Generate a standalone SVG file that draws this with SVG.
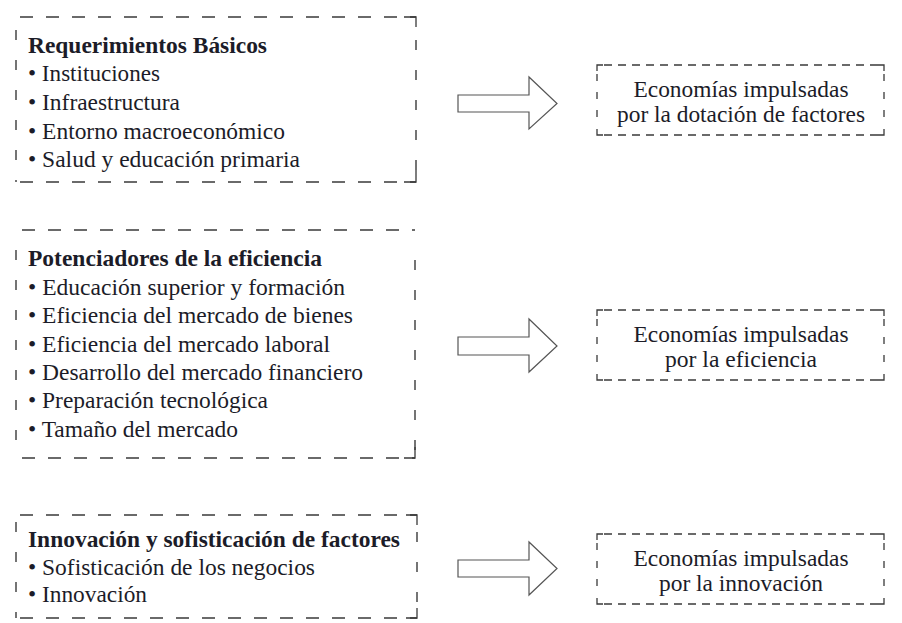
<svg xmlns="http://www.w3.org/2000/svg" width="902" height="623" viewBox="0 0 902 623">
<style>
text{font-family:'Liberation Serif','Times New Roman',serif;font-size:23.5px;fill:#1c1c28}
.b{font-weight:bold;font-size:22.5px}
.c{text-anchor:middle}
.h{stroke:#3a3a3a;stroke-width:1.4;fill:none;stroke-dasharray:13 13}
.v{stroke:#3a3a3a;stroke-width:1.4;fill:none;stroke-dasharray:10 20}
.rh{stroke:#3a3a3a;stroke-width:1.3;fill:none;stroke-dasharray:8 6}
.rv{stroke:#3a3a3a;stroke-width:1.3;fill:none;stroke-dasharray:7 11}
.k{stroke:#3a3a3a;stroke-width:1.3;fill:none}
.arr{fill:#fff;stroke:#555;stroke-width:1.2}
</style>
<rect width="902" height="623" fill="#fff"/>

<g id="req">
<line class="h" x1="20" y1="17" x2="416" y2="17"/>
<line class="h" x1="20" y1="182" x2="416" y2="182"/>
<line class="v" x1="16" y1="30" x2="16" y2="182"/>
<line class="v" x1="416" y1="40" x2="416" y2="182"/>
<path class="k" d="M404 17H416V27M404 182H416V170"/>
<text class="b" x="28" y="52.5" textLength="239" lengthAdjust="spacingAndGlyphs">Requerimientos Básicos</text>
<text x="28" y="80.5" textLength="132" lengthAdjust="spacingAndGlyphs">• Instituciones</text>
<text x="28" y="109.5" textLength="152" lengthAdjust="spacingAndGlyphs">• Infraestructura</text>
<text x="28" y="138.5" textLength="257" lengthAdjust="spacingAndGlyphs">• Entorno macroeconómico</text>
<text x="28" y="167" textLength="272" lengthAdjust="spacingAndGlyphs">• Salud y educación primaria</text>
</g>

<g id="pot">
<line class="h" x1="22" y1="230" x2="415" y2="230"/>
<line class="h" x1="22" y1="458" x2="415" y2="458"/>
<line class="v" x1="16" y1="250" x2="16" y2="458"/>
<line class="v" x1="415" y1="260" x2="415" y2="458"/>
<path class="k" d="M404 458H415V447"/>
<text class="b" x="28" y="266" textLength="294" lengthAdjust="spacingAndGlyphs">Potenciadores de la eficiencia</text>
<text x="28" y="295" textLength="317" lengthAdjust="spacingAndGlyphs">• Educación superior y formación</text>
<text x="28" y="323" textLength="325" lengthAdjust="spacingAndGlyphs">• Eficiencia del mercado de bienes</text>
<text x="28" y="352" textLength="302" lengthAdjust="spacingAndGlyphs">• Eficiencia del mercado laboral</text>
<text x="28" y="380" textLength="335" lengthAdjust="spacingAndGlyphs">• Desarrollo del mercado financiero</text>
<text x="28" y="408" textLength="240" lengthAdjust="spacingAndGlyphs">• Preparación tecnológica</text>
<text x="28" y="437" textLength="210" lengthAdjust="spacingAndGlyphs">• Tamaño del mercado</text>
</g>

<g id="inn">
<line class="h" x1="20" y1="515" x2="417" y2="515"/>
<line class="h" x1="20" y1="618" x2="417" y2="618"/>
<line class="v" x1="16" y1="522" x2="16" y2="618"/>
<line class="v" x1="417" y1="532" x2="417" y2="618"/>
<path class="k" d="M406 515H417V525M406 618H417V608"/>
<text class="b" x="28" y="547" textLength="372" lengthAdjust="spacingAndGlyphs">Innovación y sofisticación de factores</text>
<text x="28" y="575" textLength="287" lengthAdjust="spacingAndGlyphs">• Sofisticación de los negocios</text>
<text x="28" y="602" textLength="119" lengthAdjust="spacingAndGlyphs">• Innovación</text>
</g>

<g id="connectors">
<path class="arr" d="M458 95H529V77L557 103.5L529 129V112H458Z"/>
<path class="arr" d="M458 337H529V319L557 346L529 372V355H458Z"/>
<path class="arr" d="M458 560H529V542L557 568.5L529 595V577H458Z"/>
</g>

<g id="eco1">
<line class="rh" x1="604" y1="65" x2="878" y2="65"/>
<line class="rh" x1="604" y1="135" x2="878" y2="135"/>
<line class="rv" x1="597" y1="74" x2="597" y2="128"/>
<line class="rv" x1="884" y1="74" x2="884" y2="128"/>
<path class="k" d="M597 71V65H603M878 65H884V71M597 129V135H603M878 135H884V129"/>
<text class="c" x="741" y="96.5" textLength="215" lengthAdjust="spacingAndGlyphs">Economías impulsadas</text>
<text class="c" x="741" y="121.5" textLength="248" lengthAdjust="spacingAndGlyphs">por la dotación de factores</text>
</g>

<g id="eco2">
<line class="rh" x1="604" y1="310" x2="878" y2="310"/>
<line class="rh" x1="604" y1="380" x2="878" y2="380"/>
<line class="rv" x1="597" y1="319" x2="597" y2="373"/>
<line class="rv" x1="884" y1="319" x2="884" y2="373"/>
<path class="k" d="M597 316V310H603M878 310H884V316M597 374V380H603M878 380H884V374"/>
<text class="c" x="741" y="341.5" textLength="215" lengthAdjust="spacingAndGlyphs">Economías impulsadas</text>
<text class="c" x="741" y="366.5" textLength="152" lengthAdjust="spacingAndGlyphs">por la eficiencia</text>
</g>

<g id="eco3">
<line class="rh" x1="604" y1="534" x2="878" y2="534"/>
<line class="rh" x1="604" y1="604" x2="878" y2="604"/>
<line class="rv" x1="597" y1="543" x2="597" y2="597"/>
<line class="rv" x1="884" y1="543" x2="884" y2="597"/>
<path class="k" d="M597 540V534H603M878 534H884V540M597 598V604H603M878 604H884V598"/>
<text class="c" x="741" y="565.5" textLength="215" lengthAdjust="spacingAndGlyphs">Economías impulsadas</text>
<text class="c" x="741" y="590.5" textLength="164" lengthAdjust="spacingAndGlyphs">por la innovación</text>
</g>
</svg>
